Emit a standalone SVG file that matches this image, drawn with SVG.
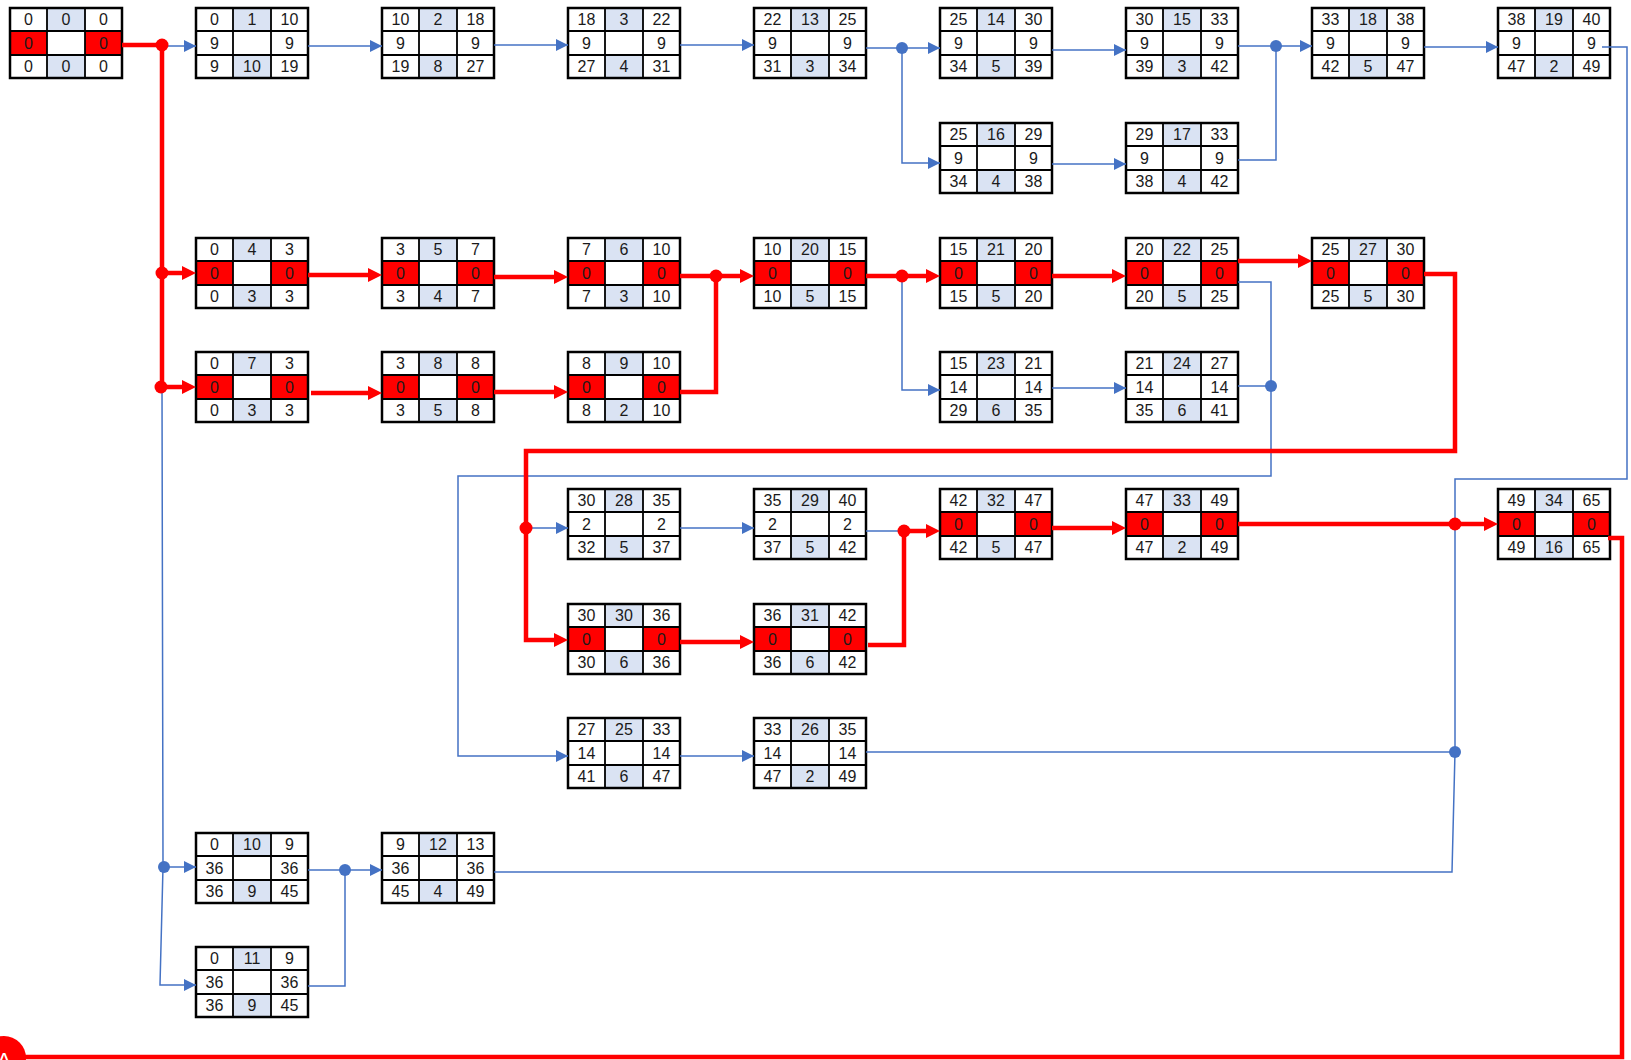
<svg xmlns="http://www.w3.org/2000/svg" width="1631" height="1060" viewBox="0 0 1631 1060">
<style>
.node text{font-family:"Liberation Sans",Arial,sans-serif;font-size:16px;text-anchor:middle;fill:#1a1a1a}
.b{fill:none;stroke:#4472C4;stroke-width:1.5}
.ba{fill:none;stroke:#4472C4;stroke-width:1.5;marker-end:url(#ab)}
.r{fill:none;stroke:#FF0000;stroke-width:4.5}
.ra{fill:none;stroke:#FF0000;stroke-width:4.5;marker-end:url(#ar)}
.rd{fill:#FF0000}
.bd{fill:#4472C4}
</style>
<defs>
<marker id="ab" viewBox="0 0 12 12" refX="12" refY="6" markerWidth="12" markerHeight="12" markerUnits="userSpaceOnUse" orient="auto"><path d="M0,0 L12,6 L0,12 z" fill="#4472C4"/></marker>
<marker id="ar" viewBox="0 0 14 14" refX="6" refY="7" markerWidth="14" markerHeight="14" markerUnits="userSpaceOnUse" orient="auto"><path d="M0,0 L14,7 L0,14 z" fill="#FF0000"/></marker>
<g id="W">
<rect x="0" y="0" width="112" height="70" fill="#fff"/>
<rect x="37" y="0" width="38" height="23" fill="#DAE3F3"/>
<rect x="37" y="47" width="38" height="23" fill="#DAE3F3"/>
<path d="M37,0V70M75,0V70M0,23H112M0,47H112" stroke="#000" stroke-width="1.8" fill="none"/>
<rect x="0" y="0" width="112" height="70" fill="none" stroke="#000" stroke-width="2.5"/>
</g>
<g id="R">
<rect x="0" y="0" width="112" height="70" fill="#fff"/>
<rect x="37" y="0" width="38" height="23" fill="#DAE3F3"/>
<rect x="37" y="47" width="38" height="23" fill="#DAE3F3"/>
<rect x="0" y="23" width="37" height="24" fill="#FF0000"/>
<rect x="75" y="23" width="37" height="24" fill="#FF0000"/>
<path d="M37,0V70M75,0V70M0,23H112M0,47H112" stroke="#000" stroke-width="1.8" fill="none"/>
<rect x="0" y="0" width="112" height="70" fill="none" stroke="#000" stroke-width="2.5"/>
</g>
</defs>
<rect width="1631" height="1060" fill="#fff"/>

<g id="nodes">
<g id="n0" class="node" transform="translate(10,8)"><use href="#R"/><text x="18.5" y="17">0</text><text x="56" y="17">0</text><text x="93.5" y="17">0</text><text x="18.5" y="40.5">0</text><text x="93.5" y="40.5">0</text><text x="18.5" y="64">0</text><text x="56" y="64">0</text><text x="93.5" y="64">0</text></g>
<g id="n1" class="node" transform="translate(196,8)"><use href="#W"/><text x="18.5" y="17">0</text><text x="56" y="17">1</text><text x="93.5" y="17">10</text><text x="18.5" y="40.5">9</text><text x="93.5" y="40.5">9</text><text x="18.5" y="64">9</text><text x="56" y="64">10</text><text x="93.5" y="64">19</text></g>
<g id="n2" class="node" transform="translate(382,8)"><use href="#W"/><text x="18.5" y="17">10</text><text x="56" y="17">2</text><text x="93.5" y="17">18</text><text x="18.5" y="40.5">9</text><text x="93.5" y="40.5">9</text><text x="18.5" y="64">19</text><text x="56" y="64">8</text><text x="93.5" y="64">27</text></g>
<g id="n3" class="node" transform="translate(568,8)"><use href="#W"/><text x="18.5" y="17">18</text><text x="56" y="17">3</text><text x="93.5" y="17">22</text><text x="18.5" y="40.5">9</text><text x="93.5" y="40.5">9</text><text x="18.5" y="64">27</text><text x="56" y="64">4</text><text x="93.5" y="64">31</text></g>
<g id="n13" class="node" transform="translate(754,8)"><use href="#W"/><text x="18.5" y="17">22</text><text x="56" y="17">13</text><text x="93.5" y="17">25</text><text x="18.5" y="40.5">9</text><text x="93.5" y="40.5">9</text><text x="18.5" y="64">31</text><text x="56" y="64">3</text><text x="93.5" y="64">34</text></g>
<g id="n14" class="node" transform="translate(940,8)"><use href="#W"/><text x="18.5" y="17">25</text><text x="56" y="17">14</text><text x="93.5" y="17">30</text><text x="18.5" y="40.5">9</text><text x="93.5" y="40.5">9</text><text x="18.5" y="64">34</text><text x="56" y="64">5</text><text x="93.5" y="64">39</text></g>
<g id="n15" class="node" transform="translate(1126,8)"><use href="#W"/><text x="18.5" y="17">30</text><text x="56" y="17">15</text><text x="93.5" y="17">33</text><text x="18.5" y="40.5">9</text><text x="93.5" y="40.5">9</text><text x="18.5" y="64">39</text><text x="56" y="64">3</text><text x="93.5" y="64">42</text></g>
<g id="n18" class="node" transform="translate(1312,8)"><use href="#W"/><text x="18.5" y="17">33</text><text x="56" y="17">18</text><text x="93.5" y="17">38</text><text x="18.5" y="40.5">9</text><text x="93.5" y="40.5">9</text><text x="18.5" y="64">42</text><text x="56" y="64">5</text><text x="93.5" y="64">47</text></g>
<g id="n19" class="node" transform="translate(1498,8)"><use href="#W"/><text x="18.5" y="17">38</text><text x="56" y="17">19</text><text x="93.5" y="17">40</text><text x="18.5" y="40.5">9</text><text x="93.5" y="40.5">9</text><text x="18.5" y="64">47</text><text x="56" y="64">2</text><text x="93.5" y="64">49</text></g>
<g id="n16" class="node" transform="translate(940,123)"><use href="#W"/><text x="18.5" y="17">25</text><text x="56" y="17">16</text><text x="93.5" y="17">29</text><text x="18.5" y="40.5">9</text><text x="93.5" y="40.5">9</text><text x="18.5" y="64">34</text><text x="56" y="64">4</text><text x="93.5" y="64">38</text></g>
<g id="n17" class="node" transform="translate(1126,123)"><use href="#W"/><text x="18.5" y="17">29</text><text x="56" y="17">17</text><text x="93.5" y="17">33</text><text x="18.5" y="40.5">9</text><text x="93.5" y="40.5">9</text><text x="18.5" y="64">38</text><text x="56" y="64">4</text><text x="93.5" y="64">42</text></g>
<g id="n4" class="node" transform="translate(196,238)"><use href="#R"/><text x="18.5" y="17">0</text><text x="56" y="17">4</text><text x="93.5" y="17">3</text><text x="18.5" y="40.5">0</text><text x="93.5" y="40.5">0</text><text x="18.5" y="64">0</text><text x="56" y="64">3</text><text x="93.5" y="64">3</text></g>
<g id="n5" class="node" transform="translate(382,238)"><use href="#R"/><text x="18.5" y="17">3</text><text x="56" y="17">5</text><text x="93.5" y="17">7</text><text x="18.5" y="40.5">0</text><text x="93.5" y="40.5">0</text><text x="18.5" y="64">3</text><text x="56" y="64">4</text><text x="93.5" y="64">7</text></g>
<g id="n6" class="node" transform="translate(568,238)"><use href="#R"/><text x="18.5" y="17">7</text><text x="56" y="17">6</text><text x="93.5" y="17">10</text><text x="18.5" y="40.5">0</text><text x="93.5" y="40.5">0</text><text x="18.5" y="64">7</text><text x="56" y="64">3</text><text x="93.5" y="64">10</text></g>
<g id="n20" class="node" transform="translate(754,238)"><use href="#R"/><text x="18.5" y="17">10</text><text x="56" y="17">20</text><text x="93.5" y="17">15</text><text x="18.5" y="40.5">0</text><text x="93.5" y="40.5">0</text><text x="18.5" y="64">10</text><text x="56" y="64">5</text><text x="93.5" y="64">15</text></g>
<g id="n21" class="node" transform="translate(940,238)"><use href="#R"/><text x="18.5" y="17">15</text><text x="56" y="17">21</text><text x="93.5" y="17">20</text><text x="18.5" y="40.5">0</text><text x="93.5" y="40.5">0</text><text x="18.5" y="64">15</text><text x="56" y="64">5</text><text x="93.5" y="64">20</text></g>
<g id="n22" class="node" transform="translate(1126,238)"><use href="#R"/><text x="18.5" y="17">20</text><text x="56" y="17">22</text><text x="93.5" y="17">25</text><text x="18.5" y="40.5">0</text><text x="93.5" y="40.5">0</text><text x="18.5" y="64">20</text><text x="56" y="64">5</text><text x="93.5" y="64">25</text></g>
<g id="n27" class="node" transform="translate(1312,238)"><use href="#R"/><text x="18.5" y="17">25</text><text x="56" y="17">27</text><text x="93.5" y="17">30</text><text x="18.5" y="40.5">0</text><text x="93.5" y="40.5">0</text><text x="18.5" y="64">25</text><text x="56" y="64">5</text><text x="93.5" y="64">30</text></g>
<g id="n7" class="node" transform="translate(196,352)"><use href="#R"/><text x="18.5" y="17">0</text><text x="56" y="17">7</text><text x="93.5" y="17">3</text><text x="18.5" y="40.5">0</text><text x="93.5" y="40.5">0</text><text x="18.5" y="64">0</text><text x="56" y="64">3</text><text x="93.5" y="64">3</text></g>
<g id="n8" class="node" transform="translate(382,352)"><use href="#R"/><text x="18.5" y="17">3</text><text x="56" y="17">8</text><text x="93.5" y="17">8</text><text x="18.5" y="40.5">0</text><text x="93.5" y="40.5">0</text><text x="18.5" y="64">3</text><text x="56" y="64">5</text><text x="93.5" y="64">8</text></g>
<g id="n9" class="node" transform="translate(568,352)"><use href="#R"/><text x="18.5" y="17">8</text><text x="56" y="17">9</text><text x="93.5" y="17">10</text><text x="18.5" y="40.5">0</text><text x="93.5" y="40.5">0</text><text x="18.5" y="64">8</text><text x="56" y="64">2</text><text x="93.5" y="64">10</text></g>
<g id="n23" class="node" transform="translate(940,352)"><use href="#W"/><text x="18.5" y="17">15</text><text x="56" y="17">23</text><text x="93.5" y="17">21</text><text x="18.5" y="40.5">14</text><text x="93.5" y="40.5">14</text><text x="18.5" y="64">29</text><text x="56" y="64">6</text><text x="93.5" y="64">35</text></g>
<g id="n24" class="node" transform="translate(1126,352)"><use href="#W"/><text x="18.5" y="17">21</text><text x="56" y="17">24</text><text x="93.5" y="17">27</text><text x="18.5" y="40.5">14</text><text x="93.5" y="40.5">14</text><text x="18.5" y="64">35</text><text x="56" y="64">6</text><text x="93.5" y="64">41</text></g>
<g id="n28" class="node" transform="translate(568,489)"><use href="#W"/><text x="18.5" y="17">30</text><text x="56" y="17">28</text><text x="93.5" y="17">35</text><text x="18.5" y="40.5">2</text><text x="93.5" y="40.5">2</text><text x="18.5" y="64">32</text><text x="56" y="64">5</text><text x="93.5" y="64">37</text></g>
<g id="n29" class="node" transform="translate(754,489)"><use href="#W"/><text x="18.5" y="17">35</text><text x="56" y="17">29</text><text x="93.5" y="17">40</text><text x="18.5" y="40.5">2</text><text x="93.5" y="40.5">2</text><text x="18.5" y="64">37</text><text x="56" y="64">5</text><text x="93.5" y="64">42</text></g>
<g id="n32" class="node" transform="translate(940,489)"><use href="#R"/><text x="18.5" y="17">42</text><text x="56" y="17">32</text><text x="93.5" y="17">47</text><text x="18.5" y="40.5">0</text><text x="93.5" y="40.5">0</text><text x="18.5" y="64">42</text><text x="56" y="64">5</text><text x="93.5" y="64">47</text></g>
<g id="n33" class="node" transform="translate(1126,489)"><use href="#R"/><text x="18.5" y="17">47</text><text x="56" y="17">33</text><text x="93.5" y="17">49</text><text x="18.5" y="40.5">0</text><text x="93.5" y="40.5">0</text><text x="18.5" y="64">47</text><text x="56" y="64">2</text><text x="93.5" y="64">49</text></g>
<g id="n34" class="node" transform="translate(1498,489)"><use href="#R"/><text x="18.5" y="17">49</text><text x="56" y="17">34</text><text x="93.5" y="17">65</text><text x="18.5" y="40.5">0</text><text x="93.5" y="40.5">0</text><text x="18.5" y="64">49</text><text x="56" y="64">16</text><text x="93.5" y="64">65</text></g>
<g id="n30" class="node" transform="translate(568,604)"><use href="#R"/><text x="18.5" y="17">30</text><text x="56" y="17">30</text><text x="93.5" y="17">36</text><text x="18.5" y="40.5">0</text><text x="93.5" y="40.5">0</text><text x="18.5" y="64">30</text><text x="56" y="64">6</text><text x="93.5" y="64">36</text></g>
<g id="n31" class="node" transform="translate(754,604)"><use href="#R"/><text x="18.5" y="17">36</text><text x="56" y="17">31</text><text x="93.5" y="17">42</text><text x="18.5" y="40.5">0</text><text x="93.5" y="40.5">0</text><text x="18.5" y="64">36</text><text x="56" y="64">6</text><text x="93.5" y="64">42</text></g>
<g id="n25" class="node" transform="translate(568,718)"><use href="#W"/><text x="18.5" y="17">27</text><text x="56" y="17">25</text><text x="93.5" y="17">33</text><text x="18.5" y="40.5">14</text><text x="93.5" y="40.5">14</text><text x="18.5" y="64">41</text><text x="56" y="64">6</text><text x="93.5" y="64">47</text></g>
<g id="n26" class="node" transform="translate(754,718)"><use href="#W"/><text x="18.5" y="17">33</text><text x="56" y="17">26</text><text x="93.5" y="17">35</text><text x="18.5" y="40.5">14</text><text x="93.5" y="40.5">14</text><text x="18.5" y="64">47</text><text x="56" y="64">2</text><text x="93.5" y="64">49</text></g>
<g id="n10" class="node" transform="translate(196,833)"><use href="#W"/><text x="18.5" y="17">0</text><text x="56" y="17">10</text><text x="93.5" y="17">9</text><text x="18.5" y="40.5">36</text><text x="93.5" y="40.5">36</text><text x="18.5" y="64">36</text><text x="56" y="64">9</text><text x="93.5" y="64">45</text></g>
<g id="n12" class="node" transform="translate(382,833)"><use href="#W"/><text x="18.5" y="17">9</text><text x="56" y="17">12</text><text x="93.5" y="17">13</text><text x="18.5" y="40.5">36</text><text x="93.5" y="40.5">36</text><text x="18.5" y="64">45</text><text x="56" y="64">4</text><text x="93.5" y="64">49</text></g>
<g id="n11" class="node" transform="translate(196,947)"><use href="#W"/><text x="18.5" y="17">0</text><text x="56" y="17">11</text><text x="93.5" y="17">9</text><text x="18.5" y="40.5">36</text><text x="93.5" y="40.5">36</text><text x="18.5" y="64">36</text><text x="56" y="64">9</text><text x="93.5" y="64">45</text></g>
</g>

<g id="connectors">
<path class="ba" d="M162,46H196"/>
<path class="ba" d="M308,46H382"/>
<path class="ba" d="M494,45H568"/>
<path class="ba" d="M680,45H754"/>
<path class="ba" d="M866,48H940"/>
<path class="ba" d="M902,48V163H940"/>
<path class="ba" d="M1052,50H1126"/>
<path class="ba" d="M1052,164H1126"/>
<path class="ba" d="M1238,46H1312"/>
<path class="b" d="M1238,160H1276V46"/>
<path class="ba" d="M1424,47H1498"/>
<path class="b" d="M1602,47H1627V479H1455V752L1452,872H494"/>
<path class="b" d="M866,752H1455"/>
<path class="ba" d="M1238,282H1271V476H458V756H568"/>
<path class="b" d="M1238,386H1271"/>
<path class="ba" d="M902,276V390H940"/>
<path class="ba" d="M1052,388H1126"/>
<path class="ba" d="M680,528H754"/>
<path class="b" d="M866,531H904"/>
<path class="ba" d="M526,528H568"/>
<path class="ba" d="M680,756H754"/>
<path class="ba" d="M162,387L163,867L160,985H196"/>
<path class="ba" d="M163,867H196"/>
<path class="ba" d="M308,870H382"/>
<path class="b" d="M308,986H345V870"/>

<path class="r" d="M122,45H162V387"/>
<path class="ra" d="M162,273H188"/>
<path class="ra" d="M162,387H188"/>
<path class="ra" d="M308,275H374"/>
<path class="ra" d="M494,277H560"/>
<path class="r" d="M680,276H716M680,392H716V276"/>
<path class="ra" d="M716,276H746"/>
<path class="r" d="M866,276H902"/>
<path class="ra" d="M902,276H932"/>
<path class="ra" d="M1052,276H1118"/>
<path class="ra" d="M1238,261H1304"/>
<path class="ra" d="M1424,274H1455V451H526V640H560"/>
<path class="ra" d="M311,393H374"/>
<path class="ra" d="M494,392H560"/>
<path class="ra" d="M680,642H746"/>
<path class="ra" d="M868,645H904V531H932"/>
<path class="ra" d="M1052,528H1118"/>
<path class="r" d="M1238,524H1455"/>
<path class="ra" d="M1455,524H1490"/>
<path class="r" d="M1608,538H1622V1057H20"/>

<circle class="rd" cx="162" cy="45" r="6.5"/>
<circle class="rd" cx="162" cy="273" r="6.5"/>
<circle class="rd" cx="161" cy="387" r="6.5"/>
<circle class="rd" cx="716" cy="276" r="6.5"/>
<circle class="rd" cx="902" cy="276" r="6.5"/>
<circle class="rd" cx="526" cy="528" r="6.5"/>
<circle class="rd" cx="904" cy="531" r="6.5"/>
<circle class="rd" cx="1455" cy="524" r="6.5"/>
<circle class="bd" cx="902" cy="48" r="6"/>
<circle class="bd" cx="1276" cy="46" r="6"/>
<circle class="bd" cx="1271" cy="386" r="6"/>
<circle class="bd" cx="1455" cy="752" r="6"/>
<circle class="bd" cx="164" cy="867" r="6"/>
<circle class="bd" cx="345" cy="870" r="6"/>
</g>

<g id="offpage">
<circle cx="4" cy="1058" r="22" fill="#FF0000"/>
<text x="4" y="1068" font-family="Liberation Sans, Arial, sans-serif" font-size="22" fill="#fff" text-anchor="middle">A</text>
</g>
</svg>
